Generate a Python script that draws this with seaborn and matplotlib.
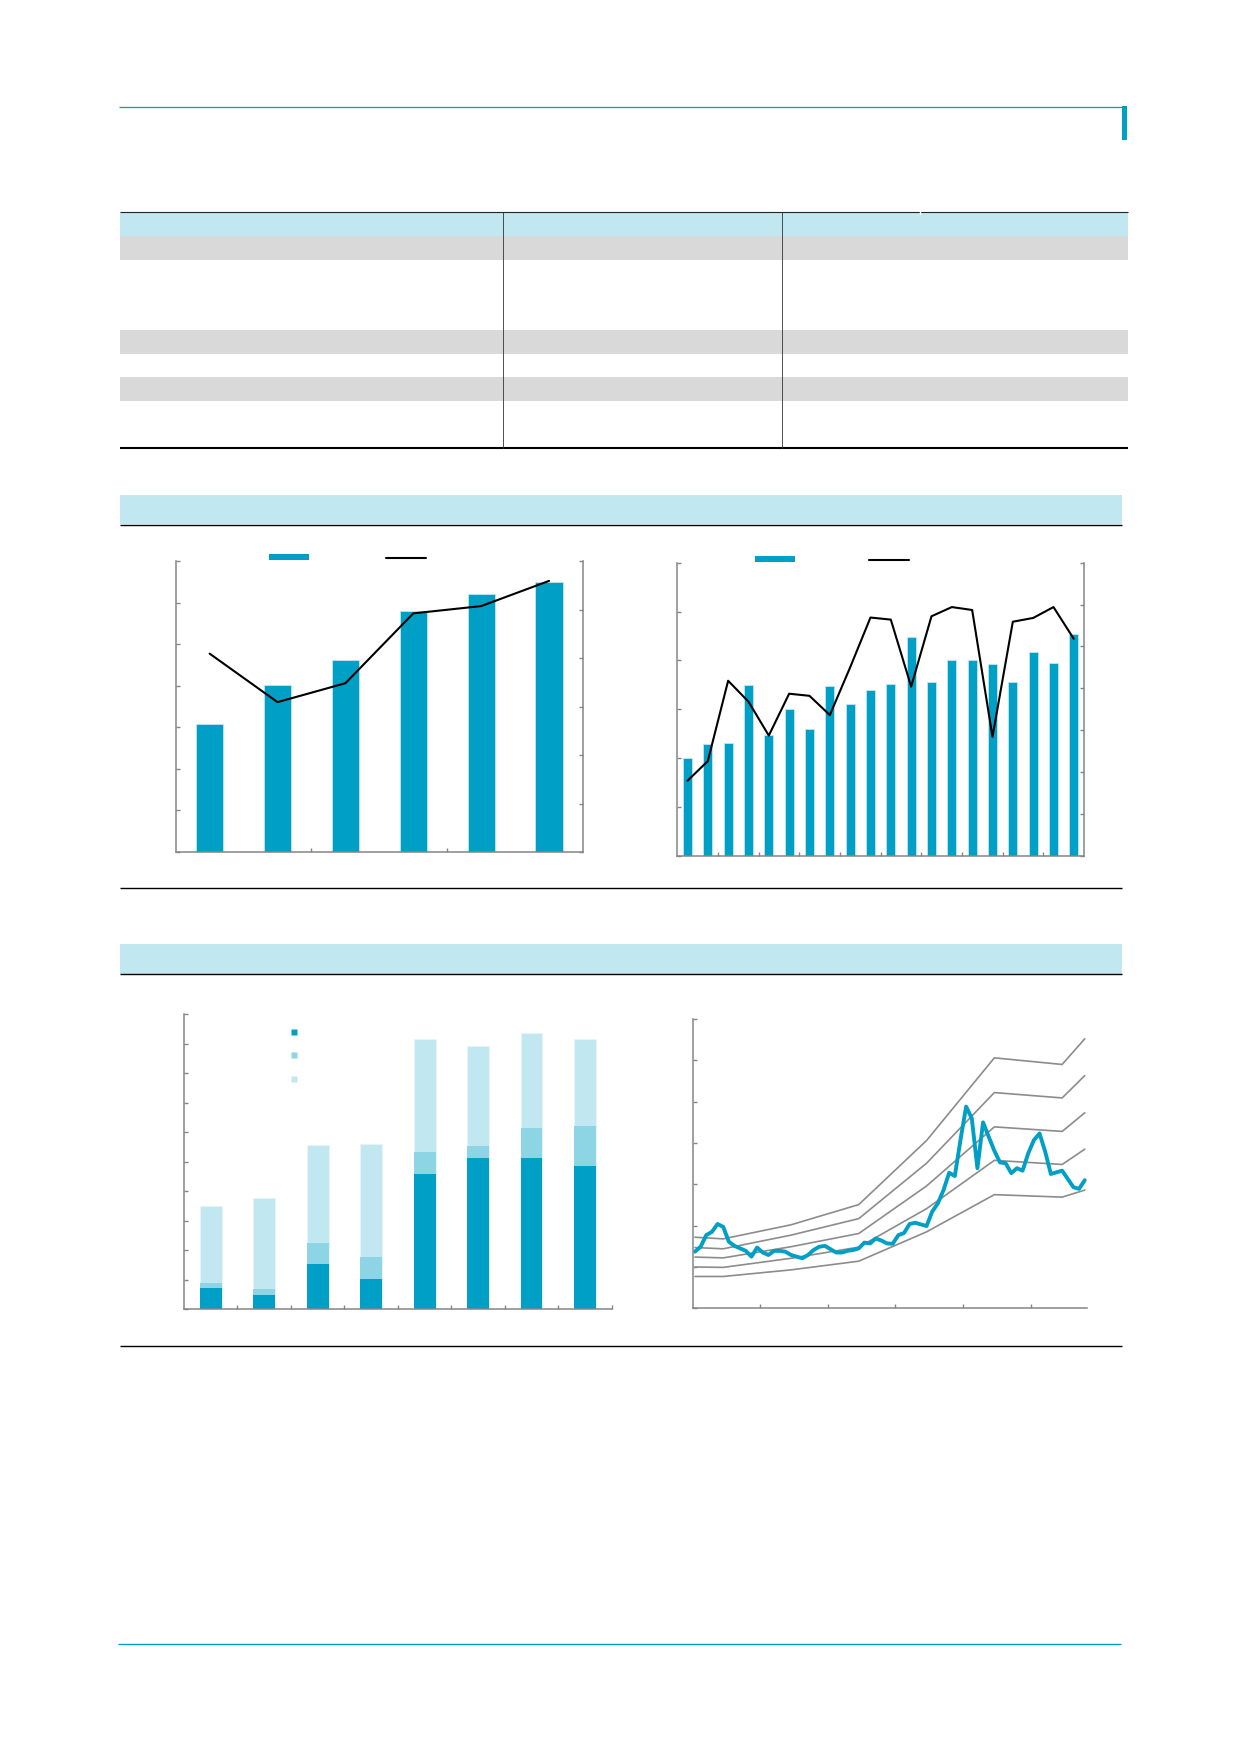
import numpy as np
import pandas as pd
import matplotlib
matplotlib.use("Agg")
import matplotlib.pyplot as plt
from matplotlib.patches import Rectangle, Patch
from matplotlib.lines import Line2D
import seaborn as sns

# ---------------- data ----------------
# Chart 1 (top-left): 6 periods, bars (left axis) + line (right axis)
c1_periods = [0, 1, 2, 3, 4, 5]
c1_bars = [3.07, 4.02, 4.62, 5.80, 6.20, 6.50]
c1_line = [4.09, 3.09, 3.48, 4.92, 5.07, 5.59]

# Chart 2 (top-right): 20 periods, bars (left axis) + line (right axis)
c2_periods = list(range(20))
c2_bars = [2.01, 2.29, 2.31, 3.49, 2.48, 3.00, 2.59, 3.47, 3.11, 3.40,
           3.52, 4.48, 3.56, 4.01, 4.01, 3.93, 3.55, 4.18, 3.94, 4.55]
c2_line = [1.79, 2.26, 4.18, 3.68, 2.87, 3.87, 3.82, 3.36, 4.50, 5.69,
           5.64, 4.04, 5.72, 5.94, 5.87, 2.84, 5.59, 5.68, 5.94, 5.18]

# Chart 3 (bottom-left): stacked bars, 8 periods, three components
c3_periods = list(range(8))
c3_dark = [0.72, 0.49, 1.55, 1.03, 4.59, 5.12, 5.12, 4.86]
c3_mid = [0.18, 0.20, 0.70, 0.74, 0.74, 0.41, 1.02, 1.35]
c3_light = [2.60, 3.07, 3.31, 3.83, 3.83, 3.40, 3.21, 2.95]

# Chart 4 (bottom-right): monthly price vs. five multiple bands
c4_price = [1.37, 1.49, 1.77, 1.85, 2.04, 1.97, 1.61, 1.51, 1.45, 1.39,
            1.25, 1.47, 1.35, 1.29, 1.39, 1.39, 1.37, 1.29, 1.25, 1.21,
            1.29, 1.41, 1.49, 1.51, 1.43, 1.35, 1.35, 1.39, 1.41, 1.45,
            1.59, 1.57, 1.69, 1.64, 1.57, 1.56, 1.77, 1.82, 2.04, 2.07,
            2.03, 1.99, 2.34, 2.54, 2.86, 3.28, 3.20, 4.07, 4.88, 4.60,
            3.39, 4.50, 4.15, 3.81, 3.53, 3.51, 3.27, 3.39, 3.33, 3.75,
            4.07, 4.23, 3.79, 3.25, 3.29, 3.33, 3.13, 2.93, 2.89, 3.10]
c4_band_months = [0, 5, 17, 29, 41, 53, 65, 69]
c4_band_a = [1.72, 1.68, 2.02, 2.51, 4.06, 6.06, 5.90, 6.52]
c4_band_b = [1.47, 1.44, 1.77, 2.17, 3.51, 5.22, 5.09, 5.63]
c4_band_c = [1.24, 1.22, 1.49, 1.81, 2.96, 4.39, 4.28, 4.73]
c4_band_d = [1.00, 0.99, 1.21, 1.48, 2.41, 3.58, 3.48, 3.85]
c4_band_e = [0.77, 0.77, 0.93, 1.14, 1.85, 2.75, 2.69, 2.86]

# ---------------- style ----------------
BLUE = "#00A0C6"
MID = "#8DD4E4"
LIGHT = "#C1E7F1"
GREY_ROW = "#D9D9D9"
SPINE = "#858585"
BAND_GREY = "#8C8C8C"

sns.set_style("ticks")
plt.rcParams["font.family"] = ["DejaVu Sans"]
plt.rcParams["xtick.direction"] = "in"
plt.rcParams["ytick.direction"] = "in"

W, H = 1240, 1754
fig = plt.figure(figsize=(W / 100, H / 100), dpi=100)


def rect(l, t, r, b):
    return [l / W, 1 - b / H, (r - l) / W, (b - t) / H]


# ---------------- page decoration ----------------
bg = fig.add_axes([0, 0, 1, 1], zorder=0)
bg.set_xlim(0, W)
bg.set_ylim(H, 0)
bg.axis("off")

bg.plot([119, 1124], [106.5, 106.5], color=BLUE, lw=0.9, solid_capstyle="butt")
bg.add_patch(Rectangle((1122, 106), 5, 34, color=BLUE, lw=0))

# table
bg.add_patch(Rectangle((120, 212), 1008, 23.5, color=LIGHT, lw=0))
for top, bot in [(235.5, 259.5), (330, 354), (377, 400.6)]:
    bg.add_patch(Rectangle((120, top), 1008, bot - top, color=GREY_ROW, lw=0))
bg.plot([120, 1128], [212, 212], color="#222222", lw=0.8, solid_capstyle="butt")
bg.plot([120, 1128], [448, 448], color="black", lw=1.5, solid_capstyle="butt")
for xs in (503, 782):
    bg.plot([xs, xs], [212, 448], color="#333333", lw=0.6)
bg.plot([920, 920], [210.5, 213.5], color="white", lw=1.0)

# section bands
for top, bot, endline in [(495, 524.3, 888.3), (944, 973.7, 1346.3)]:
    bg.add_patch(Rectangle((120, top), 1002, bot - top, color=LIGHT, lw=0))
    bg.plot([120, 1122], [bot + 0.7, bot + 0.7], color="black", lw=1.0, solid_capstyle="butt")
    bg.plot([120, 1122], [endline, endline], color="black", lw=1.0, solid_capstyle="butt")

# footer
bg.plot([118, 1121], [1644, 1644], color=BLUE, lw=1.0, solid_capstyle="butt")


def style_axis(ax, spines=("left", "bottom")):
    for s in ("left", "right", "top", "bottom"):
        ax.spines[s].set_visible(s in spines)
        ax.spines[s].set_color(SPINE)
        ax.spines[s].set_linewidth(1.1)
    ax.tick_params(colors=SPINE, length=3, width=1.0,
                   labelleft=False, labelbottom=False, labelright=False, labeltop=False)
    ax.set_xlabel("")
    ax.set_ylabel("")


def bar_line_chart(pos, periods, bars, line, bar_w, ymax_l, ymax_r, xticks, leg_x, leg_y, colspace):
    ax = fig.add_axes(rect(*pos), zorder=2)
    sns.barplot(x=periods, y=bars, ax=ax, color=BLUE, width=bar_w, saturation=1,
                errorbar=None, edgecolor="#BFE6F0", linewidth=0.6)
    n = len(periods)
    ax.set_xlim(-0.5, n - 0.5)
    ax.set_ylim(0, ymax_l)
    ax.set_yticks(np.arange(0, ymax_l + 1))
    ax.set_xticks(xticks)
    style_axis(ax, spines=("left", "bottom"))
    axr = ax.twinx()
    sns.lineplot(x=np.arange(n), y=line, ax=axr, color="black", lw=1.5)
    axr.set_xlim(-0.5, n - 0.5)
    axr.set_ylim(0, ymax_r)
    axr.set_yticks(np.arange(0, ymax_r + 1))
    style_axis(axr, spines=("right",))
    axr.tick_params(axis="y", right=True, left=False)
    handles = [Patch(facecolor=BLUE, edgecolor="none"),
               Line2D([0], [0], color="black", lw=1.5)]
    ax.legend(handles, [" ", " "], ncol=2, frameon=False, loc="center left",
              bbox_to_anchor=(leg_x, leg_y), borderpad=0, borderaxespad=0,
              handlelength=2.9, handleheight=0.36, handletextpad=0.0,
              columnspacing=colspace, fontsize=10)
    return ax


bar_line_chart((175.7, 561, 583, 852), c1_periods, c1_bars, c1_line, 0.40, 7, 6,
               [1.5, 3.5], 0.229, 1.0105, 5.2)
bar_line_chart((677.3, 562.7, 1084, 855.7), c2_periods, c2_bars, c2_line, 0.43, 6, 7,
               list(np.arange(1.5, 18, 2)), 0.191, 1.009, 5.0)

# ---------------- chart 3: stacked bars ----------------
ax3 = fig.add_axes(rect(184, 1014, 611.7, 1309.3), zorder=2)
tot_mid = np.array(c3_dark) + np.array(c3_mid)
tot_all = tot_mid + np.array(c3_light)
sns.barplot(x=c3_periods, y=tot_all, ax=ax3, color=LIGHT, width=0.41, saturation=1,
            errorbar=None, edgecolor="#E6F5F9", linewidth=0.6)
sns.barplot(x=c3_periods, y=tot_mid, ax=ax3, color=MID, width=0.41, saturation=1,
            errorbar=None, linewidth=0)
sns.barplot(x=c3_periods, y=c3_dark, ax=ax3, color=BLUE, width=0.41, saturation=1,
            errorbar=None, linewidth=0)
ax3.set_xlim(-0.5, 7.5)
ax3.set_ylim(0, 10)
ax3.set_yticks(np.arange(0, 11))
ax3.set_xticks(np.arange(0.5, 8, 1))
style_axis(ax3)
h3 = [Line2D([0], [0], marker="s", ls="none", markersize=4.6, markerfacecolor=c,
             markeredgecolor="none") for c in (BLUE, MID, LIGHT)]
ax3.legend(h3, [" ", " ", " "], frameon=False, loc="center left",
           bbox_to_anchor=(0.24, 0.857), borderpad=0, borderaxespad=0,
           handlelength=1.0, handletextpad=0.2, labelspacing=0.66, fontsize=10)

# ---------------- chart 4: price vs bands ----------------
ax4 = fig.add_axes(rect(692.7, 1019, 1087, 1308.3), zorder=2)
for band in (c4_band_a, c4_band_b, c4_band_c, c4_band_d, c4_band_e):
    sns.lineplot(x=c4_band_months, y=band, ax=ax4, color=BAND_GREY, lw=1.2)
sns.lineplot(x=np.arange(len(c4_price)), y=c4_price, ax=ax4, color=BLUE, lw=2.8)
ax4.set_xlim(-0.4, 69.4)
ax4.set_ylim(0, 7)
ax4.set_yticks(np.arange(0, 8))
ax4.set_xticks([11.5, 23.5, 35.5, 47.5, 59.5])
style_axis(ax4)

fig.savefig("out.png", dpi=100)
